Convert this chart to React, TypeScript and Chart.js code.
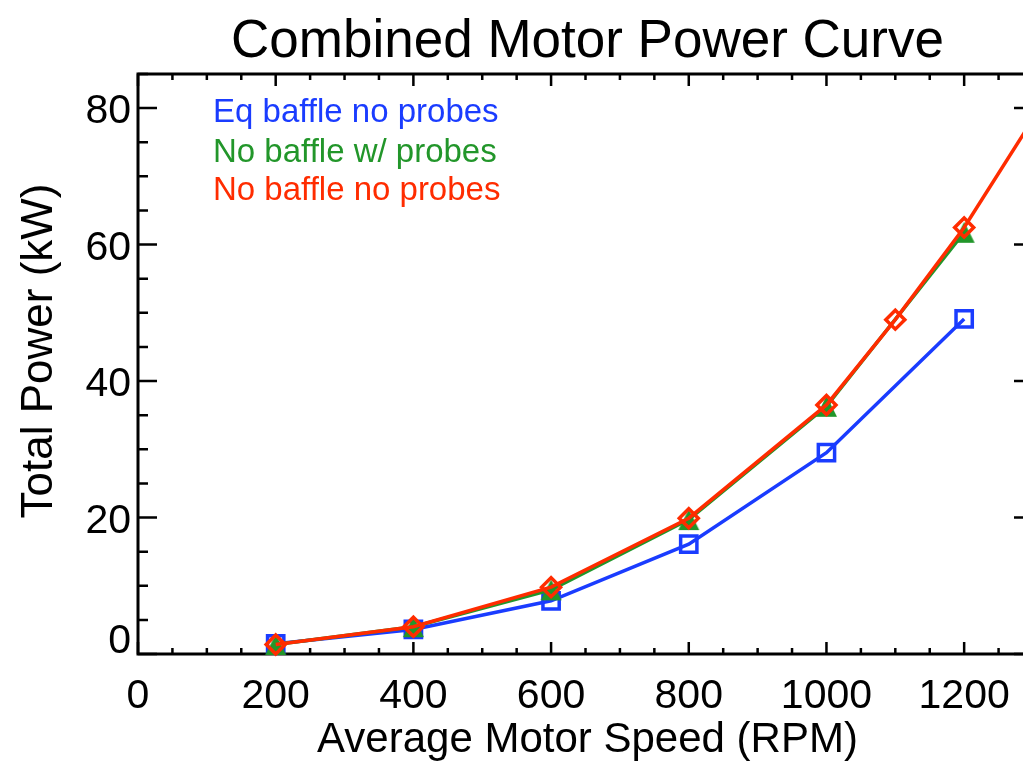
import React, { useEffect, useRef } from "react";
import { Chart, registerables } from "chart.js";

Chart.register(...registerables);

// ---- data ----
const chartTitle = "Combined Motor Power Curve";
const xAxisTitle = "Average Motor Speed (RPM)";
const yAxisTitle = "Total Power (kW)";

const eqBaffleLabel = "Eq baffle no probes";
const eqBaffleRpm = [200, 400, 600, 800, 1000, 1200];
const eqBaffleKw = [1.5, 3.6, 7.8, 16.1, 29.5, 49.1];

const probesLabel = "No baffle w/ probes";
const probesRpm = [200, 400, 600, 800, 1000, 1200];
const probesKw = [1.4, 4.0, 9.4, 19.7, 36.3, 61.8];

const noProbesLabel = "No baffle no probes";
const noProbesRpm = [200, 400, 600, 800, 1000, 1100, 1200, 1400];
const noProbesKw = [1.4, 4.0, 9.8, 19.9, 36.5, 49.0, 62.5, 94.3];

const xTickLabels = [0, 200, 400, 600, 800, 1000, 1200];
const yTickLabels = [0, 20, 40, 60, 80];
const xRange = [0, 1300];
const yRange = [0, 85];
const xMinorStep = 50;
const yMinorStep = 5;

// ---- styling ----
const BLUE = "#1a3cff";
const GREEN = "#22962a";
const RED = "#ff2c00";
const FONT = '"Liberation Sans", Arial, Helvetica, sans-serif';

const toPoints = (xs: number[], ys: number[]) => xs.map((x, i) => ({ x, y: ys[i] }));

// filled triangle whose bounding box is centred on the data point
function triangleMarker(color: string, half: number): HTMLCanvasElement {
  const size = half * 2 + 2;
  const c = document.createElement("canvas");
  c.width = size;
  c.height = size;
  const g = c.getContext("2d")!;
  g.fillStyle = color;
  g.beginPath();
  g.moveTo(1, size - 1);
  g.lineTo(size / 2, 1);
  g.lineTo(size - 1, size - 1);
  g.closePath();
  g.fill();
  return c;
}

const framePlugin = {
  id: "idlFrame",
  beforeDatasetsDraw(chart: any) {
    const { ctx, chartArea: a, scales } = chart;
    const x = scales.x;
    const y = scales.y;
    ctx.save();
    ctx.strokeStyle = "#000";
    ctx.lineWidth = 3;
    ctx.strokeRect(a.left, a.top, a.right - a.left, a.bottom - a.top);

    ctx.lineWidth = 2.5;
    ctx.beginPath();
    for (let v = xRange[0]; v <= xRange[1]; v += xMinorStep) {
      const px = x.getPixelForValue(v);
      const len = v % 200 === 0 ? 12 : 6;
      ctx.moveTo(px, a.bottom);
      ctx.lineTo(px, a.bottom - len);
      ctx.moveTo(px, a.top);
      ctx.lineTo(px, a.top + len);
    }
    for (let v = yRange[0]; v <= yRange[1]; v += yMinorStep) {
      const py = y.getPixelForValue(v);
      const len = v % 20 === 0 ? 19 : 10;
      ctx.moveTo(a.left, py);
      ctx.lineTo(a.left + len, py);
      ctx.moveTo(a.right, py);
      ctx.lineTo(a.right - len, py);
    }
    ctx.stroke();
    ctx.restore();
  },
  afterDraw(chart: any) {
    const { ctx, chartArea: a, scales } = chart;
    const x = scales.x;
    const y = scales.y;
    const cx = (a.left + a.right) / 2 + 2;
    ctx.save();
    ctx.fillStyle = "#000";

    // title
    ctx.font = `53px ${FONT}`;
    ctx.textAlign = "center";
    ctx.textBaseline = "alphabetic";
    ctx.fillText(chartTitle, cx, 57);

    // x tick labels
    ctx.font = `41px ${FONT}`;
    xTickLabels.forEach((v) => {
      ctx.fillText(String(v), x.getPixelForValue(v), a.bottom + 54);
    });

    // y tick labels (the zero label sits just above the x axis)
    ctx.textAlign = "right";
    yTickLabels.forEach((v) => {
      const py = v === 0 ? a.bottom - 1 : y.getPixelForValue(v) + 15;
      ctx.fillText(String(v), a.left - 7, py);
    });

    // x axis title
    ctx.textAlign = "center";
    ctx.font = `42px ${FONT}`;
    ctx.fillText(xAxisTitle, cx, a.bottom + 98);

    // y axis title
    ctx.font = `44px ${FONT}`;
    ctx.translate(52, 351);
    ctx.rotate(-Math.PI / 2);
    ctx.fillText(yAxisTitle, 0, 0);
    ctx.restore();

    // in-plot legend text
    ctx.save();
    ctx.font = `33px ${FONT}`;
    ctx.textAlign = "left";
    const legend: [string, string, number][] = [
      [eqBaffleLabel, BLUE, 122],
      [probesLabel, GREEN, 162],
      [noProbesLabel, RED, 200],
    ];
    legend.forEach(([t, c, by]) => {
      ctx.fillStyle = c;
      ctx.fillText(t, 213, by);
    });
    ctx.restore();
  },
};

export default function App() {
  const canvasRef = useRef<HTMLCanvasElement | null>(null);

  useEffect(() => {
    document.body.style.margin = "0";
    document.body.style.overflow = "hidden";
    document.documentElement.style.overflow = "hidden";
    if (!canvasRef.current) return;

    const chart = new Chart(canvasRef.current, {
      type: "scatter",
      data: {
        datasets: [
          {
            label: eqBaffleLabel,
            data: toPoints(eqBaffleRpm, eqBaffleKw),
            showLine: true,
            borderColor: BLUE,
            borderWidth: 3.5,
            pointStyle: "rect",
            pointRadius: 11.5,
            pointBorderWidth: 3.5,
            pointBorderColor: BLUE,
            pointBackgroundColor: "rgba(0,0,0,0)",
            clip: false,
            order: 3,
          } as any,
          {
            label: probesLabel,
            data: toPoints(probesRpm, probesKw),
            showLine: true,
            borderColor: GREEN,
            borderWidth: 3.5,
            pointStyle: triangleMarker(GREEN, 10.5),
            pointRadius: 10,
            clip: false,
            order: 2,
          } as any,
          {
            label: noProbesLabel,
            data: toPoints(noProbesRpm, noProbesKw),
            showLine: true,
            borderColor: RED,
            borderWidth: 3.5,
            pointStyle: "rectRot",
            pointRadius: 9.5,
            pointBorderWidth: 3.5,
            pointBorderColor: RED,
            pointBackgroundColor: "rgba(0,0,0,0)",
            // the curve runs past the right edge of the plot frame
            clip: { left: false, bottom: false, top: 0, right: 0 },
            order: 1,
          } as any,
        ],
      },
      options: {
        responsive: false,
        animation: false,
        devicePixelRatio: 1,
        layout: { padding: { left: 138, top: 74, right: 27, bottom: 107 } },
        scales: {
          x: { type: "linear", min: xRange[0], max: xRange[1], display: false },
          y: { type: "linear", min: yRange[0], max: yRange[1], display: false },
        },
        plugins: {
          legend: { display: false },
          tooltip: { enabled: false },
        },
      },
      plugins: [framePlugin],
    });

    return () => chart.destroy();
  }, []);

  return (
    <div style={{ position: "fixed", left: 0, top: 0, width: 1060, height: 761, background: "#fff" }}>
      <canvas ref={canvasRef} width={1060} height={761} style={{ display: "block" }} />
    </div>
  );
}
